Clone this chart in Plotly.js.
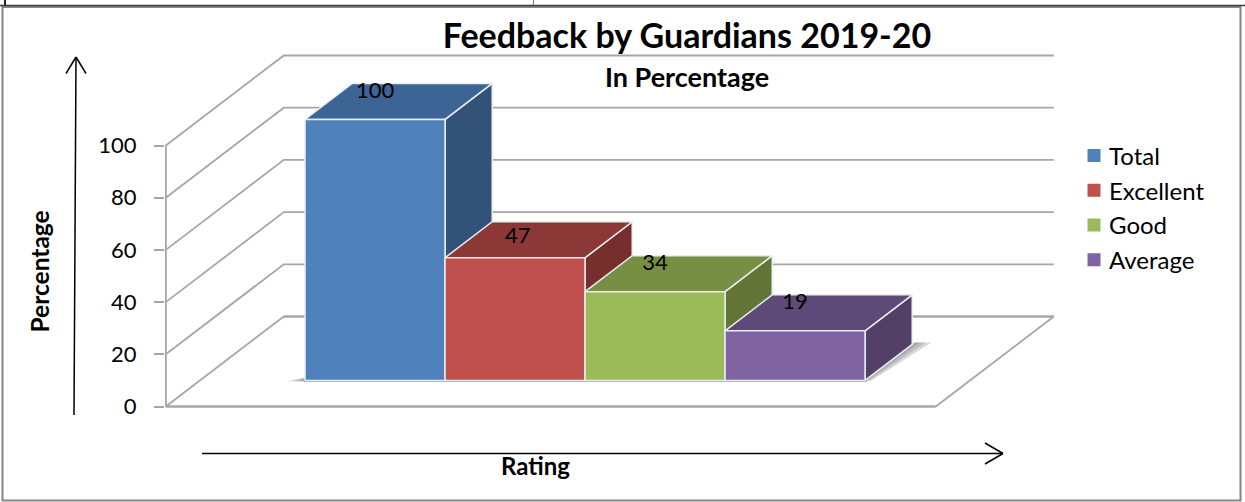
<!DOCTYPE html>
<html>
<head>
<meta charset="utf-8">
<script src="https://cdn.plot.ly/plotly-3.0.1.min.js"></script>
<style>html,body{margin:0;padding:0;background:#fff;overflow:hidden}#chart{width:1245px;height:502px}</style>
</head>
<body>
<div id="chart"></div>
<script>
// Data
const categories = ['Total', 'Excellent', 'Good', 'Average'];
const values = [100, 47, 34, 19];
const yTicks = [0, 20, 40, 60, 80, 100];
const titleText = 'Feedback by Guardians 2019-20';
const subtitleText = 'In Percentage';
const xTitleText = 'Rating';
const yTitleText = 'Percentage';

// Styles
const frontColors = ['#4F81BD', '#C0504D', '#9BBB59', '#8064A2'];
const topColors = ['#3C6494', '#8C3836', '#778F42', '#5E4A78'];
const sideColors = ['#325277', '#772F2D', '#627537', '#534066'];
const labelLifts = [10.4, 7.6, 10.4, 10.4];
const labelShifts = [0, 0.02, 0, 0];
const GRID = '#a6a6a6';
const EDGE = '#e9eef2';
const FONT = 'Lato, "Open Sans", sans-serif';

// Page geometry
const W = 1245, H = 502, L = 165, R = 1060, T = 40, B = 415;
const px = x => (x - L) / (R - L);
const py = y => (B - y) / (B - T);

// Oblique projection: depth d (0 = front of floor, 1 = back wall)
const KX = 118 / 140, KY = 90 / 2.61;
const D0 = 0.29, D1 = 0.69;
const FL = -0.75, FR = 4.75;
const P = (x, v, d) => [x + d * KX, v + d * KY];
function poly(pts) { return { x: pts.map(p => p[0]), y: pts.map(p => p[1]) }; }

const traces = [];
function line(pts, width) {
  traces.push(Object.assign(poly(pts), { type: 'scatter', mode: 'lines', showlegend: false, hoverinfo: 'skip',
    line: { color: GRID, width: width || 1.8 }, cliponaxis: false }));
}
function face(pts, color, edge, w) {
  const c = pts.concat([pts[0]]);
  traces.push(Object.assign(poly(c), { type: 'scatter', mode: 'lines', fill: 'toself', fillcolor: color, showlegend: false,
    hoverinfo: 'skip', line: { color: edge || EDGE, width: w === undefined ? 1.5 : w }, cliponaxis: false }));
}

// Walls and floor
yTicks.forEach(v => {
  if (v > 0) line([P(FL, v, 0), P(FL, v, 1), P(FR, v, 1)]);
});
line([P(FL, 0, 0), P(FL, 100, 0)], 2);
line([P(FL, 0, 1), P(FR, 0, 1)], 2.5);
line([P(FL, 0, 0), P(FL, 0, 1)]);
line([P(FR, 0, 1), P(FR, 0, 0)]);
line([P(FL, 0, 0), P(FR, 0, 0)], 2.5);

// Legend carriers, covered by the bar faces
categories.forEach((c, i) => {
  const m = P(i + 0.5, values[i] / 2, D0);
  traces.push({ type: 'scatter', mode: 'markers', x: [m[0]], y: [m[1]], name: c, legendgroup: c,
    marker: { symbol: 'square', size: 13, color: frontColors[i] }, hoverinfo: 'name' });
});

// Soft floor shadow
const n = categories.length;
[0.04, 0.08, 0.12].forEach(s => {
  face([P(n, 0, D0 - 0.005), P(n, 0, D1 + 0.02), P(n + s, 0, D1 + 0.02), P(n + s * 0.4, 0, D0 - 0.005)], 'rgba(120,120,120,0.28)', 'rgba(0,0,0,0)', 0);
  face([P(-s, 0, D0 - 0.01), P(0, 0, D0 + 0.05), P(0, 0, D0 - 0.01)], 'rgba(120,120,120,0.28)', 'rgba(0,0,0,0)', 0);
});
line([P(0, 0, D0 - 0.008), P(n + 0.02, 0, D0 - 0.008)], 2);

// Bars
categories.forEach((c, i) => {
  const v = values[i];
  face([P(i + 1, 0, D0), P(i + 1, 0, D1), P(i + 1, v, D1), P(i + 1, v, D0)], sideColors[i]);
  face([P(i, v, D0), P(i, v, D1), P(i + 1, v, D1), P(i + 1, v, D0)], topColors[i]);
  face([P(i, 0, D0), P(i, v, D0), P(i + 1, v, D0), P(i + 1, 0, D0)], frontColors[i]);
});

// Data labels
traces.push({ type: 'scatter', mode: 'text', x: categories.map((c, i) => i + 0.5 + D0 * KX + labelShifts[i]), y: values.map((v, i) => v + D0 * KY + labelLifts[i]),
  text: values.map(String), textposition: 'middle center', textfont: { family: FONT, size: 22, color: '#000' },
  showlegend: false, hoverinfo: 'skip', cliponaxis: false });

// Frame and arrows (page decoration)
const seg = (x0, y0, x1, y1, color, width) => ({ type: 'line', xref: 'paper', yref: 'paper', x0: px(x0), y0: py(y0), x1: px(x1), y1: py(y1), line: { color, width } });
const shapes = [
  { type: 'rect', xref: 'paper', yref: 'paper', layer: 'below', x0: px(2.5), x1: px(1240.5), y0: py(500.5), y1: py(7), line: { color: '#858585', width: 2 }, fillcolor: '#fff' },
  seg(0, 5.5, 1245, 5.5, '#3c3c3c', 1.5),
  seg(5, 0, 5, 5, '#222', 2),
  seg(533.5, 0, 533.5, 5, '#777', 1),
  seg(74, 415, 76, 57, '#000', 1.5),
  seg(66, 73.5, 76, 57, '#000', 1.5),
  seg(86, 73.5, 76, 57, '#000', 1.5),
  seg(202, 453.5, 1003, 453.5, '#000', 1.5),
  seg(985, 443, 1003, 453.5, '#000', 1.5),
  seg(985, 464, 1003, 453.5, '#000', 1.5)
];

const note = (text, x, y, size, angle) => ({ text: '<b>' + text + '</b>', xref: 'paper', yref: 'paper', x: px(x), y: py(y),
  xanchor: 'center', yanchor: 'middle', showarrow: false, textangle: angle || 0, font: { family: FONT, size, color: '#000' } });

const layout = {
  width: W, height: H, paper_bgcolor: '#fff', plot_bgcolor: 'rgba(0,0,0,0)',
  margin: { l: L, r: W - R, t: T, b: H - B, pad: 0 },
  title: { text: '<b>' + titleText + '</b>', x: 687 / W, xanchor: 'center', xref: 'container', y: 1 - 36 / H, yref: 'container', yanchor: 'middle',
    font: { family: FONT, size: 34, color: '#000' } },
  xaxis: { visible: false, range: [(L - 270.8) / 140, (R - 270.8) / 140], fixedrange: true },
  yaxis: { range: [(406.5 - B) / 2.61, (406.5 - T) / 2.61], tickvals: yTicks, ticktext: yTicks.map(String), ticks: 'outside', ticklen: 10, tickwidth: 2, tickcolor: GRID,
    ticklabelstandoff: 13, showgrid: false, zeroline: false, showline: false, tickfont: { family: FONT, size: 22, color: '#000' }, fixedrange: true },
  legend: { x: px(1069), y: py(133.5), xanchor: 'left', yanchor: 'top', traceorder: 'grouped', tracegroupgap: 0.5, bgcolor: 'rgba(0,0,0,0)', borderwidth: 0,
    font: { family: FONT, size: 24, color: '#000' } },
  shapes,
  annotations: [
    note(subtitleText, 687, 76.5, 27),
    note(xTitleText, 535, 465, 24),
    note(yTitleText, 39, 271.5, 24.5, -90)
  ],
  showlegend: true
};
const gd = document.getElementById('chart');
Plotly.newPlot(gd, traces, layout, { displayModeBar: false, staticPlot: true }).then(() => {
  gd.querySelectorAll('.legend .legendpoints').forEach(el => el.setAttribute('transform', 'translate(5,0)'));
});
</script>
</body>
</html>
